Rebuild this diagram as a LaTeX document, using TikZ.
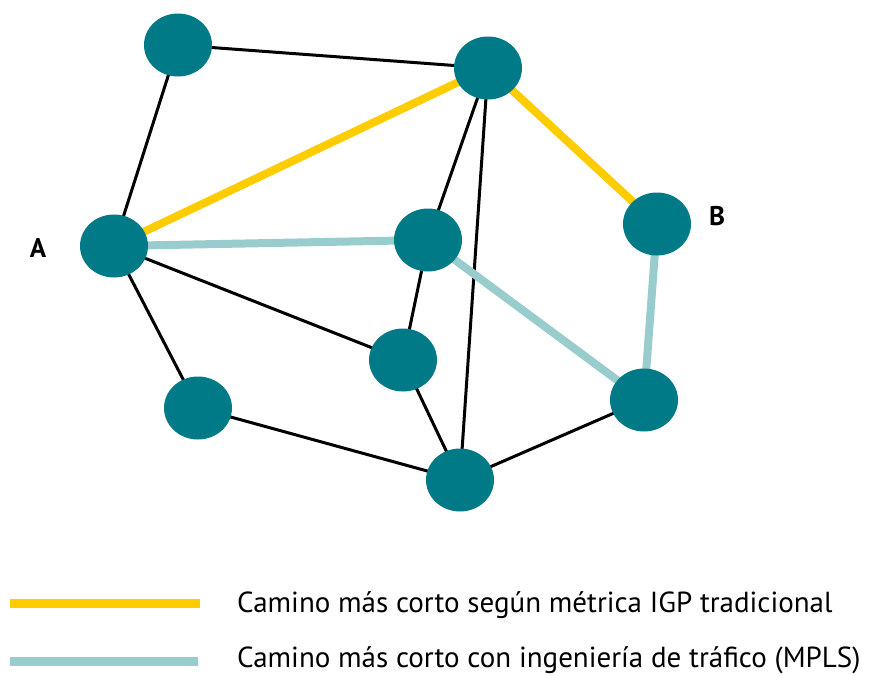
\documentclass[tikz,border=0pt]{standalone}
\usepackage{fontspec}
\setmainfont{PT Sans}
\usetikzlibrary{shapes.geometric,backgrounds}
\definecolor{nodeteal}{HTML}{007A87}
\definecolor{pathyellow}{HTML}{FFCC00}
\definecolor{pathteal}{HTML}{99CCCC}
\begin{document}
\begin{tikzpicture}[x=1pt,y=-1pt,
  router/.style={ellipse,fill=nodeteal,minimum width=68pt,minimum height=63pt,inner sep=0pt},
  link/.style={line width=3pt,black},
  igp/.style={line width=8pt,pathyellow},
  mpls/.style={line width=8pt,pathteal},
  legtext/.style={anchor=west,font=\fontsize{29}{33}\selectfont,inner sep=0pt},
  endlabel/.style={font=\bfseries\fontsize{27}{31}\selectfont,inner sep=0pt}]
\useasboundingbox (0,0) rectangle (875,675);
\node[router] (n1) at (178,45) {};
\node[router] (n2) at (488,68) {};
\node[router] (nA) at (114,246) {};
\node[router] (n4) at (428,240) {};
\node[router] (nB) at (657,224) {};
\node[router] (n6) at (403,360) {};
\node[router] (n7) at (198,408) {};
\node[router] (n8) at (460,480) {};
\node[router] (n9) at (644,400) {};
\begin{scope}[on background layer]
% black links
\draw[link] (n1.center) -- (n2.center);
\draw[link] (n1.center) -- (nA.center);
\draw[link] (n2.center) -- (n4.center);
\draw[link] (n2.center) -- (n8.center);
\draw[link] (nA.center) -- (n6.center);
\draw[link] (nA.center) -- (n7.center);
\draw[link] (n4.center) -- (n6.center);
\draw[link] (n6.center) -- (n8.center);
\draw[link] (n7.center) -- (n8.center);
\draw[link] (n8.center) -- (n9.center);
% paths
\draw[igp] (nA.center) -- (n2.center);
\draw[igp] (n2.center) -- (nB.center);
\draw[mpls] (nA.center) -- (n4.center);
\draw[mpls] (n4.center) -- (n9.center);
\draw[mpls] (nB.center) -- (n9.center);
\end{scope}
\node[endlabel] (la) at (38,248) {A};
\node[endlabel] (lb) at (717,216) {B};
% legend
\coordinate (ly1) at (10,603);
\coordinate (ly2) at (200,603);
\coordinate (lt1) at (10,661);
\coordinate (lt2) at (198,661);
\draw[igp,line width=9pt] (ly1) -- (ly2);
\draw[mpls,line width=9pt] (lt1) -- (lt2);
\node[legtext] (tx1) at (237,605) {Camino más corto según métrica IGP tradicional};
\node[legtext] (tx2) at (237,660) {Camino más corto con ingeniería de tráfico (MPLS)};
\end{tikzpicture}
\end{document}
